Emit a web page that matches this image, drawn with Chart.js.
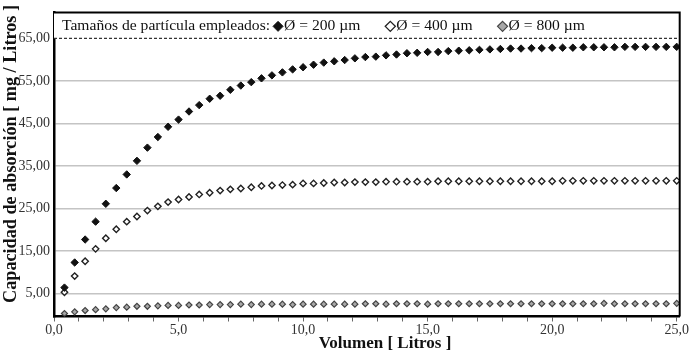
<!DOCTYPE html>
<html>
<head>
<meta charset="utf-8">
<script src="https://cdn.jsdelivr.net/npm/chart.js@4.4.0/dist/chart.umd.min.js"></script>
<style>
  html, body { margin: 0; padding: 0; background: #fff; }
</style>
</head>
<body>
<canvas id="grafico" width="689" height="354"></canvas>
<script>
// Volumen [L] de cada medida
const volumen = [0.42, 0.83, 1.25, 1.67, 2.08, 2.5, 2.92, 3.33, 3.75, 4.17,
  4.58, 5.0, 5.42, 5.83, 6.25, 6.67, 7.08, 7.5, 7.92, 8.33,
  8.75, 9.17, 9.58, 10.0, 10.42, 10.83, 11.25, 11.67, 12.08, 12.5,
  12.92, 13.33, 13.75, 14.17, 14.58, 15.0, 15.42, 15.83, 16.25, 16.67,
  17.08, 17.5, 17.92, 18.33, 18.75, 19.17, 19.58, 20.0, 20.42, 20.83,
  21.25, 21.67, 22.08, 22.5, 22.92, 23.33, 23.75, 24.17, 24.58, 25.0];

// Capacidad de absorción [mg/L] por tamaño de partícula
const cap200 = [6.4, 12.3, 17.7, 21.9, 26.1, 29.8, 33.0, 36.2, 39.3, 41.8,
  44.2, 45.9, 47.8, 49.3, 50.8, 51.5, 52.9, 53.9, 54.7, 55.6,
  56.3, 57.0, 57.7, 58.2, 58.8, 59.3, 59.6, 59.9, 60.3, 60.6,
  60.7, 61.0, 61.2, 61.5, 61.6, 61.8, 61.8, 62.0, 62.1, 62.2,
  62.3, 62.4, 62.5, 62.6, 62.6, 62.7, 62.7, 62.8, 62.8, 62.8,
  62.9, 62.9, 62.9, 62.9, 63.0, 63.0, 63.0, 63.0, 63.0, 63.0];
const cap400 = [5.3, 9.1, 12.6, 15.5, 18.0, 20.1, 21.9, 23.1, 24.5, 25.5,
  26.5, 27.1, 27.7, 28.3, 28.7, 29.2, 29.5, 29.7, 30.0, 30.3,
  30.4, 30.5, 30.6, 30.9, 30.9, 31.0, 31.1, 31.1, 31.2, 31.2,
  31.2, 31.3, 31.3, 31.3, 31.3, 31.3, 31.4, 31.4, 31.4, 31.4,
  31.4, 31.4, 31.4, 31.4, 31.4, 31.4, 31.4, 31.4, 31.5, 31.5,
  31.5, 31.5, 31.5, 31.5, 31.5, 31.5, 31.5, 31.5, 31.5, 31.5];
const cap800 = [0.3, 0.7, 1.0, 1.2, 1.4, 1.7, 1.8, 2.0, 2.0, 2.1,
  2.2, 2.2, 2.3, 2.3, 2.4, 2.4, 2.4, 2.5, 2.4, 2.5,
  2.5, 2.5, 2.4, 2.5, 2.5, 2.5, 2.5, 2.5, 2.5, 2.6,
  2.6, 2.5, 2.6, 2.6, 2.6, 2.5, 2.6, 2.6, 2.6, 2.6,
  2.6, 2.6, 2.6, 2.6, 2.6, 2.6, 2.6, 2.6, 2.6, 2.6,
  2.6, 2.6, 2.7, 2.6, 2.6, 2.6, 2.6, 2.6, 2.6, 2.7];

const etiquetas = ["Ø = 200 µm", "Ø = 400 µm", "Ø = 800 µm"];
const ticksY = [5, 15, 25, 35, 45, 55, 65];
const ticksX = [0, 1, 2, 3, 4, 5, 6, 7, 8, 9, 10, 11, 12, 13, 14, 15, 16, 17, 18, 19, 20, 21, 22, 23, 24, 25];

const serif = '"Liberation Serif", "DejaVu Serif", serif';

function puntos(ys) {
  return volumen.map((x, i) => ({ x: x, y: ys[i] }));
}

function rombo(ctx, x, y, r, relleno, borde, ancho) {
  ctx.beginPath();
  ctx.moveTo(x, y - r);
  ctx.lineTo(x + r, y);
  ctx.lineTo(x, y + r);
  ctx.lineTo(x - r, y);
  ctx.closePath();
  ctx.fillStyle = relleno;
  ctx.fill();
  ctx.lineWidth = ancho;
  ctx.strokeStyle = borde;
  ctx.stroke();
}

// caja de leyenda, marco y titulos de los ejes
const marco = {
  id: "marco",
  beforeDatasetsDraw(chart) {
    const ctx = chart.ctx;
    const a = chart.chartArea;
    const y65 = chart.scales.y.getPixelForValue(65);
    ctx.save();
    ctx.fillStyle = "#fff";
    ctx.fillRect(a.left, a.top, a.right - a.left, y65 - a.top);
    ctx.setLineDash([3, 2]);
    ctx.strokeStyle = "#333";
    ctx.lineWidth = 1.2;
    ctx.beginPath();
    ctx.moveTo(a.left, y65);
    ctx.lineTo(a.right, y65);
    ctx.stroke();
    ctx.setLineDash([]);

    const yc = (a.top + y65) / 2 + 1;
    ctx.font = "15.6px " + serif;
    ctx.textBaseline = "middle";
    ctx.fillStyle = "#111";
    let x = 62;
    const titulo = "Tamaños de partícula empleados:";
    ctx.fillText(titulo, x, yc);
    x += ctx.measureText(titulo).width + 8;
    chart.data.datasets.forEach((ds) => {
      rombo(ctx, x, yc, 5, ds.backgroundColor, ds.borderColor, ds.borderWidth);
      ctx.fillStyle = "#111";
      ctx.fillText(ds.label, x + 6, yc);
      x += 6 + ctx.measureText(ds.label).width + 30;
    });
    ctx.restore();
  },
  afterDraw(chart) {
    const ctx = chart.ctx;
    const a = chart.chartArea;
    ctx.save();
    ctx.strokeStyle = "#000";
    ctx.lineWidth = 2;
    ctx.beginPath();
    ctx.moveTo(a.left, a.top);
    ctx.lineTo(a.right, a.top);
    ctx.lineTo(a.right, a.bottom);
    ctx.stroke();
    ctx.font = "bold 17px " + serif;
    ctx.fillStyle = "#111";
    ctx.textAlign = "center";
    ctx.textBaseline = "middle";
    ctx.fillText("Volumen [ Litros ]", 385, 344);
    ctx.translate(11, 154);
    ctx.rotate(-Math.PI / 2);
    ctx.font = "bold 18.2px " + serif;
    ctx.fillText("Capacidad de absorción [ mg / Litros ]", 0, 0);
    ctx.restore();
  }
};

const ctx = document.getElementById("grafico").getContext("2d");
const grafico = new Chart(ctx, {
  type: "scatter",
  data: {
    datasets: [
      {
        label: etiquetas[0],
        data: puntos(cap200),
        pointStyle: "rectRot",
        pointRadius: 3.7,
        backgroundColor: "#111",
        borderColor: "#111",
        borderWidth: 1,
      },
      {
        label: etiquetas[1],
        data: puntos(cap400),
        pointStyle: "rectRot",
        pointRadius: 3.2,
        backgroundColor: "#fff",
        borderColor: "#222",
        borderWidth: 1.4,
      },
      {
        label: etiquetas[2],
        data: puntos(cap800),
        pointStyle: "rectRot",
        pointRadius: 3,
        backgroundColor: "#a8a8a8",
        borderColor: "#444",
        borderWidth: 1.2,
      },
    ],
  },
  options: {
    responsive: false,
    animation: false,
    devicePixelRatio: 1,
    layout: { padding: { top: 1, right: 8, left: 0, bottom: 0 } },
    plugins: {
      legend: { display: false },
      tooltip: { enabled: false },
    },
    scales: {
      x: {
        type: "linear",
        min: 0,
        max: 25.12,
        afterBuildTicks: (s) => { s.ticks = ticksX.map((v) => ({ value: v })); },
        afterFit: (s) => { s.height = 37.5; },
        grid: { drawOnChartArea: false, drawTicks: true, tickLength: 5, tickColor: "#666", tickWidth: 1 },
        border: { color: "#000", width: 2.5 },
        ticks: {
          autoSkip: false,
          maxRotation: 0,
          padding: 0,
          color: "#333",
          font: { family: serif, size: 14 },
          callback: (v) => (v % 5 === 0 ? v.toFixed(1).replace(".", ",") : ""),
        },
      },
      y: {
        min: -0.4,
        max: 71.1,
        afterBuildTicks: (s) => { s.ticks = ticksY.map((v) => ({ value: v })); },
        afterFit: (s) => { s.width = 54; },
        grid: {
          drawTicks: false,
          lineWidth: 1.5,
          color: (c) => (c.tick && c.tick.value === 65 ? "rgba(0,0,0,0)" : "#c4c4c4"),
        },
        border: { color: "#000", width: 2.5 },
        ticks: {
          padding: 4,
          color: "#333",
          font: { family: serif, size: 14 },
          callback: (v) => v.toFixed(2).replace(".", ","),
        },
      },
    },
  },
  plugins: [marco],
});
</script>
</body>
</html>
